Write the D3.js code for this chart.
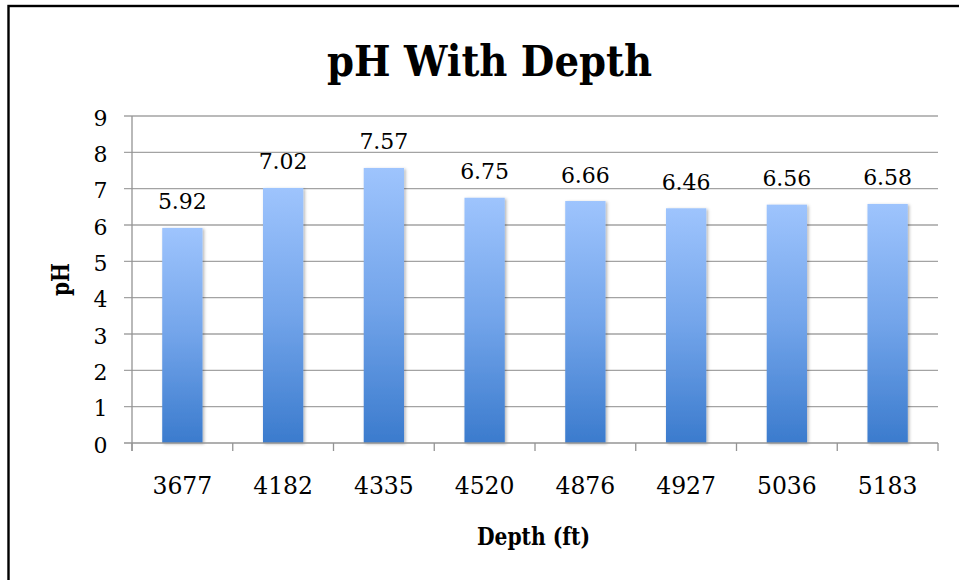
<!DOCTYPE html>
<html>
<head>
<meta charset="utf-8">
<script src="https://cdn.jsdelivr.net/npm/d3@7"></script>
<style>
  html, body { margin: 0; padding: 0; background: #fff; }
  svg { display: block; }
  text { font-family: "DejaVu Serif", "Liberation Serif", serif; fill: #000; }
</style>
</head>
<body>
<svg id="chart" width="959" height="580"></svg>
<script>
// Soil pH measured at each sampled depth
const depths = ["3677", "4182", "4335", "4520", "4876", "4927", "5036", "5183"];
const phValues = [5.92, 7.02, 7.57, 6.75, 6.66, 6.46, 6.56, 6.58];
const yTicks = [0, 1, 2, 3, 4, 5, 6, 7, 8, 9];
const chartTitle = "pH With Depth";
const xTitle = "Depth (ft)";
const yTitle = "pH";

const svg = d3.select("#chart");

// plot area
const plotLeft = 132, plotRight = 938, plotTop = 116, plotBottom = 443;

// chart frame
svg.append("rect")
  .attr("x", 8.5).attr("y", 6)
  .attr("width", 980).attr("height", 600)
  .attr("fill", "none").attr("stroke", "#000").attr("stroke-width", 2.4);

const defs = svg.append("defs");
const grad = defs.append("linearGradient")
  .attr("id", "barFill").attr("x1", 0).attr("y1", 0).attr("x2", 0).attr("y2", 1);
grad.append("stop").attr("offset", "0%").attr("stop-color", "#9ec4fd");
grad.append("stop").attr("offset", "50%").attr("stop-color", "#72a4ea");
grad.append("stop").attr("offset", "100%").attr("stop-color", "#3b7bcd");

const shadow = defs.append("filter").attr("id", "barShadow")
  .attr("x", "-20%").attr("y", "-5%").attr("width", "150%").attr("height", "115%");
shadow.append("feDropShadow")
  .attr("dx", 1.5).attr("dy", 1).attr("stdDeviation", 1.6)
  .attr("flood-color", "#000").attr("flood-opacity", 0.3);

const y = d3.scaleLinear().domain([0, 9]).range([plotBottom, plotTop]);
const x = d3.scaleBand().domain(depths).range([plotLeft, plotRight])
  .paddingInner(0.6).paddingOuter(0.3);
const edges = d3.scaleLinear().domain([0, depths.length]).range([plotLeft, plotRight]);

// horizontal gridlines with left tick stubs
svg.append("g").selectAll("line").data(yTicks.filter(t => t > 0)).join("line")
  .attr("x1", plotLeft - 8).attr("x2", plotRight)
  .attr("y1", d => y(d)).attr("y2", d => y(d))
  .attr("stroke", "#a3a3a3").attr("stroke-width", 1.3);

// y axis tick labels
svg.append("g").selectAll("text").data(yTicks).join("text")
  .attr("x", 107.5).attr("y", d => y(d) + 9.5)
  .attr("text-anchor", "end")
  .attr("font-size", 22)
  .text(d => d);

// bars
svg.append("g").selectAll("rect").data(phValues).join("rect")
  .attr("x", (d, i) => x(depths[i]))
  .attr("width", x.bandwidth())
  .attr("y", d => y(d))
  .attr("height", d => y(0) - y(d))
  .attr("fill", "url(#barFill)")
  .attr("filter", "url(#barShadow)");

// axis lines and category boundary ticks
svg.append("line")
  .attr("x1", plotLeft).attr("x2", plotLeft).attr("y1", plotTop).attr("y2", plotBottom + 8)
  .attr("stroke", "#949494").attr("stroke-width", 1.3);
svg.append("line")
  .attr("x1", plotLeft - 8).attr("x2", plotRight).attr("y1", plotBottom).attr("y2", plotBottom)
  .attr("stroke", "#949494").attr("stroke-width", 1.3);
svg.append("g").selectAll("line").data(d3.range(depths.length + 1)).join("line")
  .attr("x1", d => edges(d)).attr("x2", d => edges(d))
  .attr("y1", plotBottom).attr("y2", plotBottom + 8)
  .attr("stroke", "#949494").attr("stroke-width", 1.3);

// value labels
svg.append("g").selectAll("text").data(phValues).join("text")
  .attr("x", (d, i) => x(depths[i]) + x.bandwidth() / 2)
  .attr("y", d => y(d) - 18.5)
  .attr("text-anchor", "middle")
  .attr("font-size", 22)
  .text(d => d.toFixed(2));

// category labels
svg.append("g").selectAll("text").data(depths).join("text")
  .attr("x", d => x(d) + x.bandwidth() / 2)
  .attr("y", 494)
  .attr("text-anchor", "middle")
  .attr("font-size", 23.5)
  .text(d => d);

// titles
svg.append("text")
  .attr("x", 489.5).attr("y", 76)
  .attr("text-anchor", "middle")
  .attr("font-size", 43).attr("font-weight", "bold")
  .attr("textLength", 325).attr("lengthAdjust", "spacingAndGlyphs")
  .text(chartTitle);

svg.append("text")
  .attr("x", 533.5).attr("y", 544.5)
  .attr("text-anchor", "middle")
  .attr("font-size", 24).attr("font-weight", "bold")
  .attr("textLength", 113).attr("lengthAdjust", "spacingAndGlyphs")
  .text(xTitle);

svg.append("text")
  .attr("transform", "translate(68.5,279.5) rotate(-90)")
  .attr("text-anchor", "middle")
  .attr("font-size", 25).attr("font-weight", "bold")
  .attr("textLength", 33).attr("lengthAdjust", "spacingAndGlyphs")
  .text(yTitle);
</script>
</body>
</html>
